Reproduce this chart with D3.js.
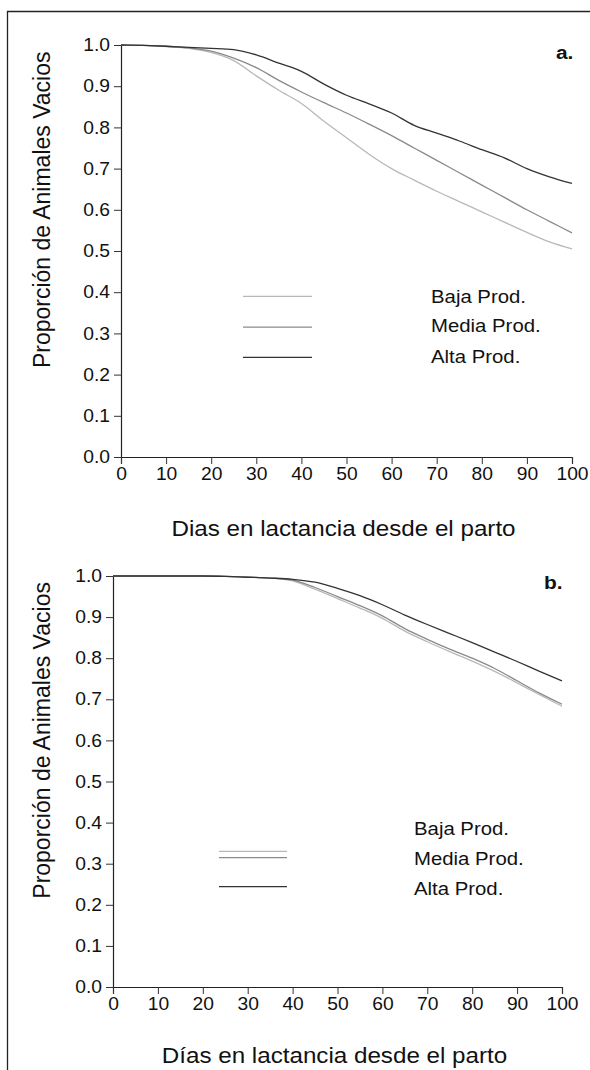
<!DOCTYPE html>
<html><head><meta charset="utf-8">
<script src="https://cdn.jsdelivr.net/npm/d3@7"></script>
<style>body{margin:0;background:#fff}svg{display:block}text{font-family:"Liberation Sans",Arial,sans-serif;fill:#111}</style>
</head><body><svg id="c" width="590" height="1070"></svg>
<script>
const days = [0,5,10,15,20,25,30,35,40,45,50,55,60,65,70,75,80,85,90,95,100];
const yTicks = [0,0.1,0.2,0.3,0.4,0.5,0.6,0.7,0.8,0.9,1.0];
const xTicks = [0,10,20,30,40,50,60,70,80,90,100];
const seriesNames = ["Baja Prod.","Media Prod.","Alta Prod."];
// Panel a
const bajaA  = [1.0,0.999,0.996,0.992,0.982,0.962,0.925,0.89,0.858,0.815,0.775,0.735,0.70,0.672,0.645,0.62,0.595,0.57,0.545,0.522,0.505];
const mediaA = [1.0,0.999,0.997,0.993,0.985,0.968,0.945,0.914,0.886,0.86,0.835,0.808,0.78,0.75,0.72,0.69,0.66,0.63,0.60,0.572,0.544];
const altaA  = [1.0,0.999,0.997,0.994,0.992,0.989,0.976,0.956,0.936,0.905,0.878,0.857,0.835,0.805,0.786,0.767,0.746,0.726,0.70,0.68,0.664];
// Panel b
const bajaB  = [1.0,1.0,1.0,1.0,1.0,0.999,0.997,0.995,0.988,0.968,0.945,0.922,0.897,0.866,0.840,0.816,0.793,0.768,0.740,0.711,0.683];
const mediaB = [1.0,1.0,1.0,1.0,1.0,0.999,0.997,0.995,0.990,0.972,0.950,0.928,0.903,0.872,0.846,0.822,0.800,0.775,0.745,0.715,0.688];
const altaB  = [1.0,1.0,1.0,1.0,1.0,0.999,0.997,0.995,0.992,0.985,0.970,0.952,0.930,0.905,0.882,0.860,0.838,0.815,0.792,0.768,0.745];

const colors = ["#b8b8b8","#8a8a8a","#333"];
const SX = 1.1;
const svg = d3.select("#c");
// frame
svg.append("line").attr("x1",7.5).attr("y1",11).attr("x2",7.5).attr("y2",1070).attr("stroke","#222").attr("stroke-width",1.3);
svg.append("line").attr("x1",7).attr("y1",11.5).attr("x2",590).attr("y2",11.5).attr("stroke","#222").attr("stroke-width",1.3);

function stretchText(sel, x, y, anchor, size, str, weight){
  return sel.append("text").attr("transform",`translate(${x},${y}) scale(${SX},1)`)
    .attr("text-anchor",anchor).style("font-size",size+"px").style("font-weight",weight||"normal").text(str);
}

function panel(cfg){
  const x = d3.scaleLinear().domain([0,100]).range([cfg.x0,cfg.x1]);
  const y = d3.scaleLinear().domain([0,1]).range([cfg.y0,cfg.y1]);
  const g = svg.append("g");
  const ya = g.append("g").attr("transform",`translate(${cfg.x0},0)`)
    .call(d3.axisLeft(y).tickValues(yTicks).tickFormat(d3.format(".1f")).tickSize(7).tickPadding(4));
  const xa = g.append("g").attr("transform",`translate(0,${cfg.y0})`)
    .call(d3.axisBottom(x).tickValues(xTicks).tickFormat(d3.format("d")).tickSize(7).tickPadding(4));
  [ya,xa].forEach(a=>{a.select(".domain").attr("stroke","#222").attr("stroke-width",1.2);
    a.selectAll(".tick line").attr("stroke","#333");
    a.selectAll("text").style("font-size","17.5px").attr("fill","#111");});
  ya.selectAll(".tick text").attr("transform",`scale(${SX},1)`).attr("x",-11/SX);
  xa.selectAll(".tick text").attr("transform",`scale(${SX},1)`);
  const line = d3.line().x((d,i)=>x(days[i])).y(d=>y(d)).curve(d3.curveMonotoneX);
  cfg.data.forEach((s,i)=>{
    g.append("path").datum(s).attr("d",line).attr("fill","none").attr("stroke",colors[i]).attr("stroke-width",1.3);
  });
  // legend
  cfg.legLines.forEach((v,i)=>{
    g.append("line").attr("x1",cfg.legX0).attr("x2",cfg.legX1).attr("y1",y(v)).attr("y2",y(v)).attr("stroke",colors[i]).attr("stroke-width",1.3);
  });
  cfg.legText.forEach((v,i)=>{
    stretchText(g, cfg.legTx, y(v)+6.5, "start", 18.5, seriesNames[i]);
  });
  stretchText(g, cfg.labX, cfg.labY, "start", 19, cfg.label, "bold");
  g.append("text").attr("transform",`translate(${cfg.ytX},${y(0.6)}) rotate(-90)`)
    .attr("text-anchor","middle").style("font-size","23px").text("Proporción de Animales Vacios");
  stretchText(g, (cfg.x0+cfg.x1)/2 - 3, cfg.xtY, "middle", 22, cfg.xTitle);
}
panel({x0:121,x1:572,y0:457,y1:45,data:[bajaA,mediaA,altaA],
  legLines:[0.39,0.315,0.242],legText:[0.39,0.318,0.245],legX0:243,legX1:312,legTx:431,
  label:"a.",labX:556,labY:59,ytX:50,xtY:536,xTitle:"Dias en lactancia desde el parto"});
panel({x0:113,x1:562,y0:987,y1:576,data:[bajaB,mediaB,altaB],
  legLines:[0.33,0.315,0.244],legText:[0.385,0.313,0.24],legX0:219,legX1:287,legTx:414,
  label:"b.",labX:544,labY:589,ytX:50,xtY:1063,xTitle:"Días en lactancia desde el parto"});
</script></body></html>
